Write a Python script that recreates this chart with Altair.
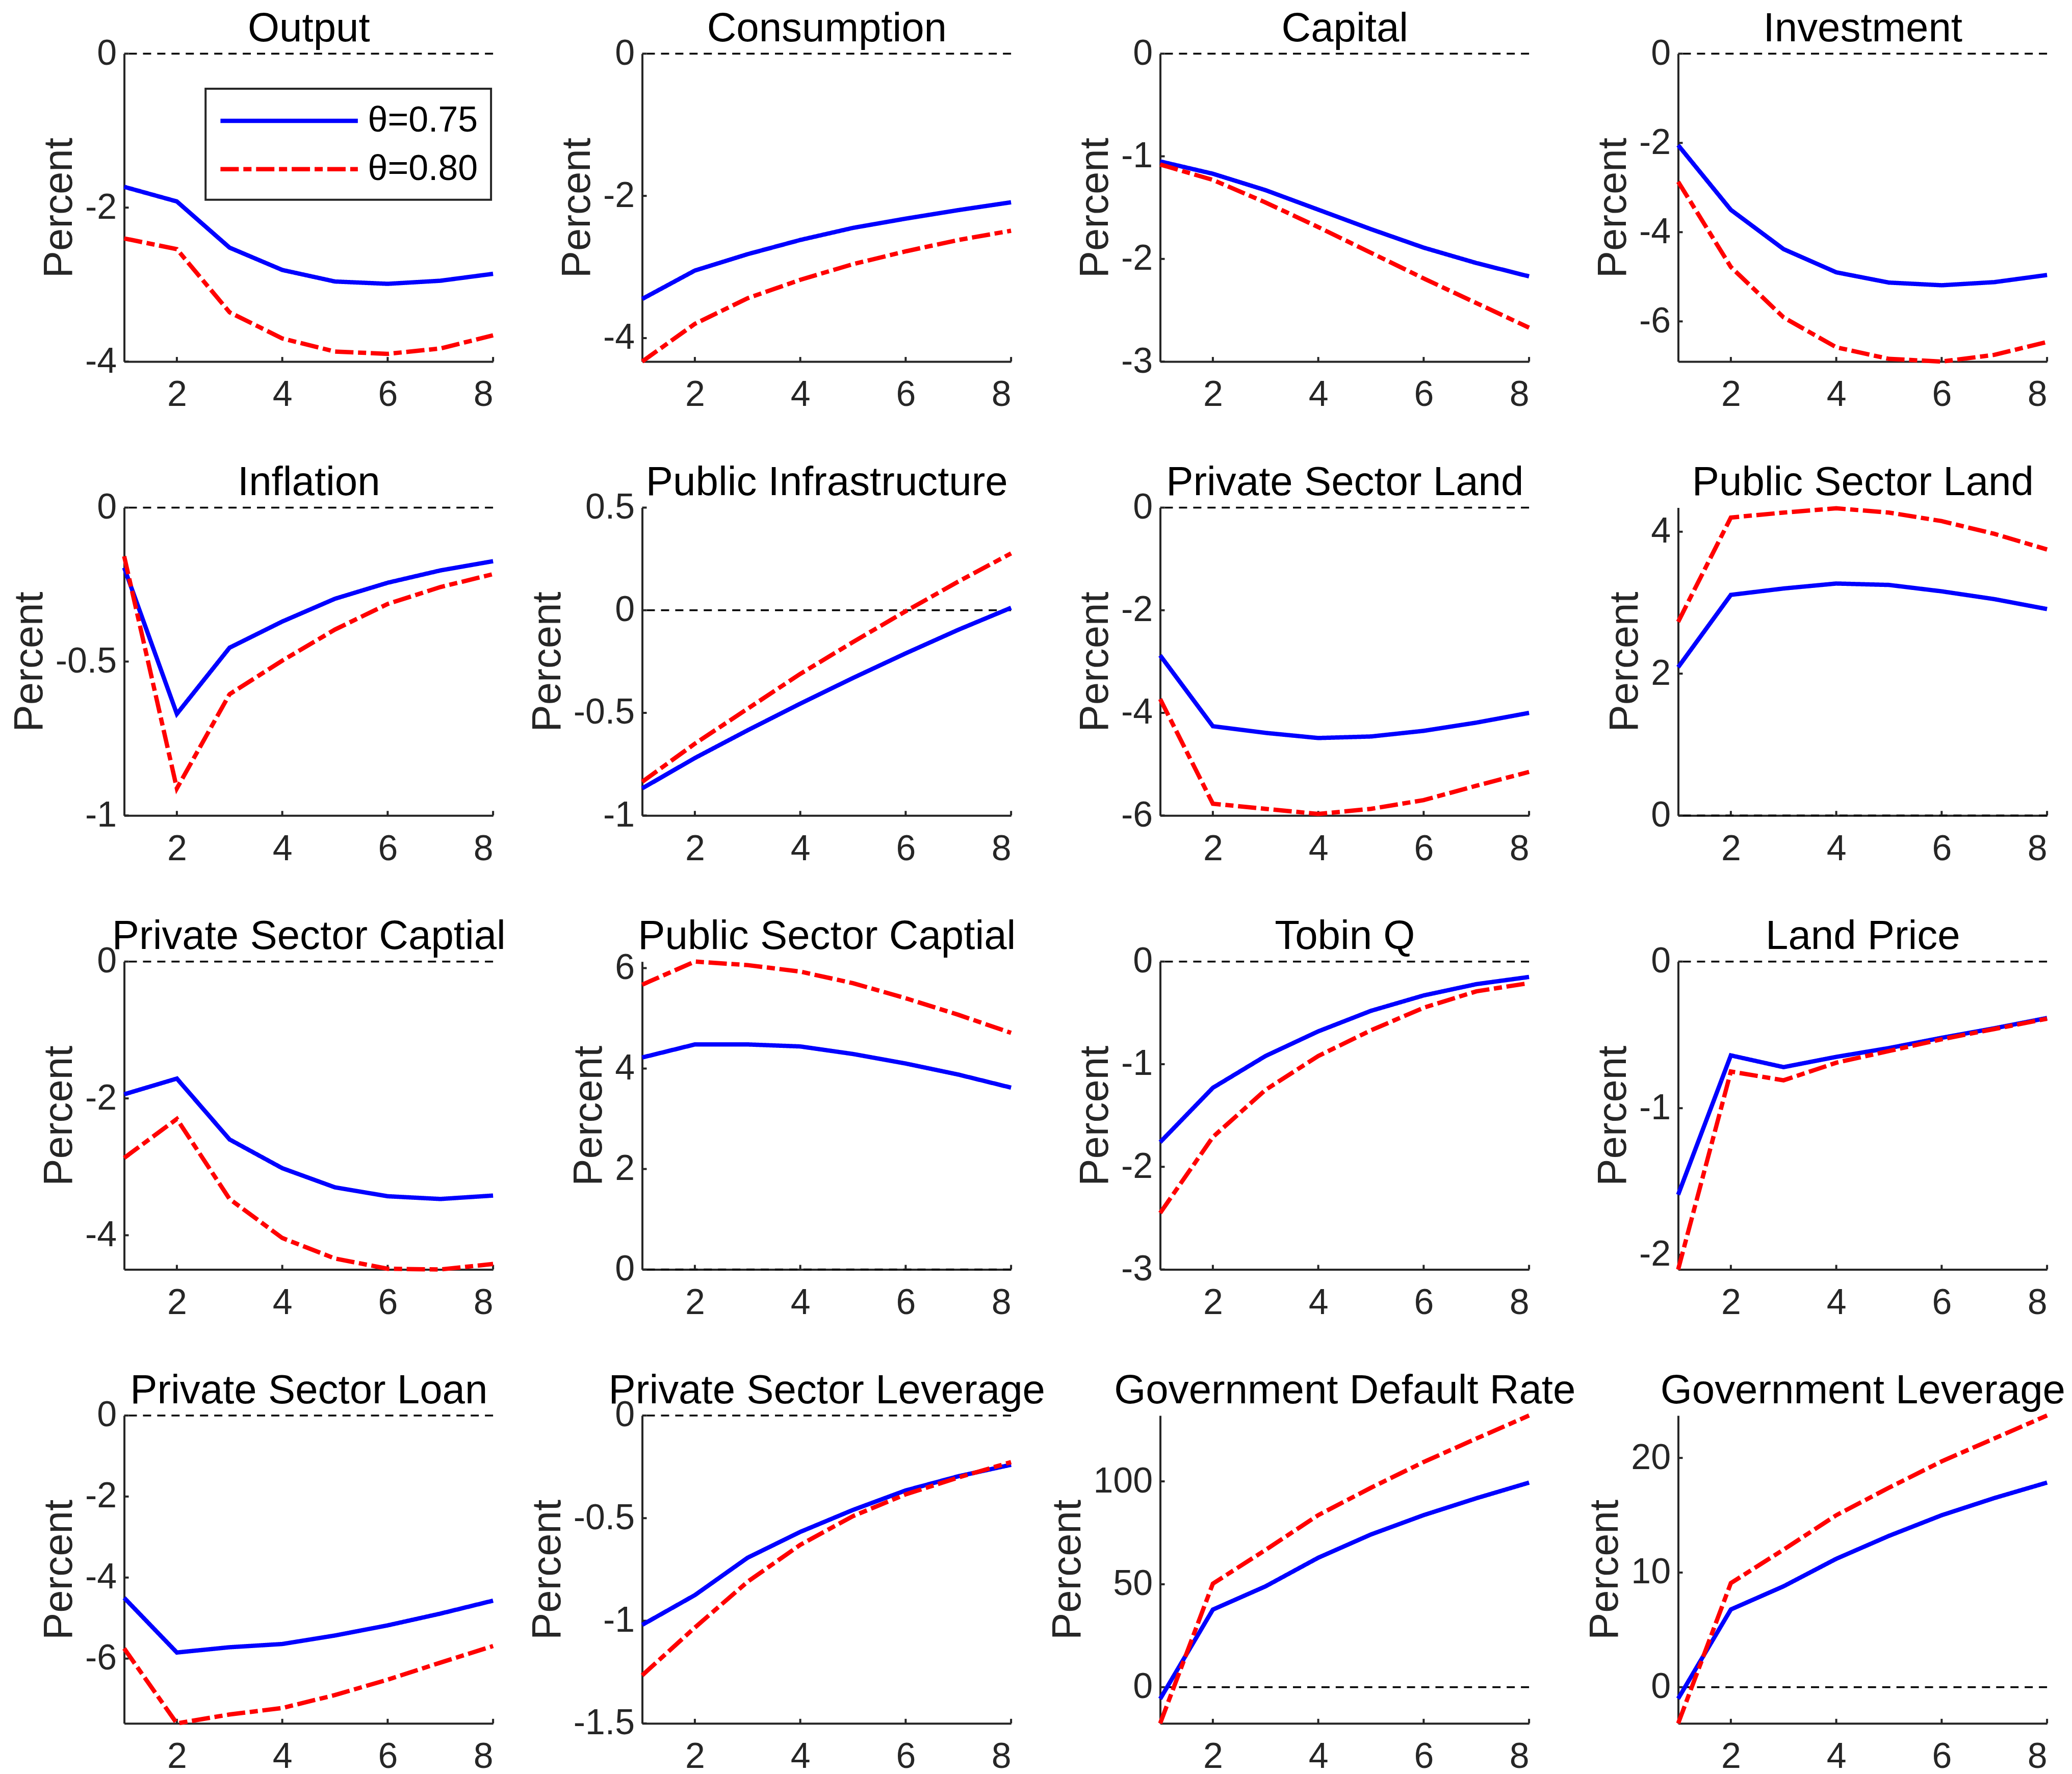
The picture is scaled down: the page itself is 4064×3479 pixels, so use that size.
import altair as alt
import pandas as pd

FONT = "Liberation Sans"
W, H = 725, 605

periods = [1, 2, 3, 4, 5, 6, 7, 8]
series_names = ["θ=0.75", "θ=0.80"]
x_ticks = [2, 4, 6, 8]

titles = ["Output", "Consumption", "Capital", "Investment",
          "Inflation", "Public Infrastructure", "Private Sector Land", "Public Sector Land",
          "Private Sector Captial", "Public Sector Captial", "Tobin Q", "Land Price",
          "Private Sector Loan", "Private Sector Leverage", "Government Default Rate",
          "Government Leverage"]

theta075 = [
    [-1.73, -1.92, -2.52, -2.81, -2.96, -2.99, -2.95, -2.86],
    [-3.45, -3.05, -2.82, -2.62, -2.45, -2.32, -2.20, -2.09],
    [-1.05, -1.17, -1.33, -1.52, -1.71, -1.89, -2.04, -2.17],
    [-2.05, -3.50, -4.38, -4.90, -5.13, -5.19, -5.12, -4.96],
    [-0.195, -0.67, -0.455, -0.37, -0.296, -0.244, -0.204, -0.174],
    [-0.868, -0.72, -0.585, -0.455, -0.33, -0.21, -0.095, 0.012],
    [-2.88, -4.26, -4.39, -4.49, -4.46, -4.35, -4.19, -4.00],
    [2.09, 3.11, 3.20, 3.27, 3.25, 3.16, 3.05, 2.91],
    [-1.94, -1.71, -2.60, -3.02, -3.30, -3.43, -3.47, -3.42],
    [4.22, 4.48, 4.48, 4.44, 4.29, 4.10, 3.88, 3.62],
    [-1.76, -1.23, -0.92, -0.68, -0.48, -0.33, -0.22, -0.15],
    [-1.59, -0.64, -0.72, -0.65, -0.59, -0.52, -0.455, -0.385],
    [-4.50, -5.85, -5.72, -5.64, -5.43, -5.18, -4.89, -4.57],
    [-1.02, -0.875, -0.693, -0.567, -0.46, -0.365, -0.296, -0.24],
    [-5.7, 37.7, 49.0, 62.9, 74.2, 83.6, 91.8, 99.4],
    [-1.0, 6.78, 8.8, 11.2, 13.2, 15.0, 16.5, 17.85],
]

theta080 = [
    [-2.40, -2.54, -3.36, -3.70, -3.87, -3.90, -3.83, -3.66],
    [-4.33, -3.80, -3.44, -3.18, -2.96, -2.78, -2.62, -2.49],
    [-1.08, -1.23, -1.45, -1.69, -1.94, -2.19, -2.43, -2.67],
    [-2.87, -4.78, -5.91, -6.58, -6.84, -6.90, -6.75, -6.46],
    [-0.158, -0.912, -0.606, -0.497, -0.396, -0.313, -0.258, -0.216],
    [-0.836, -0.65, -0.48, -0.31, -0.155, -0.005, 0.14, 0.277],
    [-3.73, -5.77, -5.87, -5.97, -5.87, -5.70, -5.42, -5.15],
    [2.73, 4.20, 4.27, 4.33, 4.27, 4.15, 3.97, 3.75],
    [-2.87, -2.30, -3.47, -4.04, -4.34, -4.49, -4.50, -4.42],
    [5.67, 6.13, 6.06, 5.93, 5.70, 5.40, 5.07, 4.71],
    [-2.45, -1.71, -1.25, -0.92, -0.67, -0.45, -0.29, -0.21],
    [-2.10, -0.75, -0.81, -0.69, -0.61, -0.53, -0.46, -0.39],
    [-5.75, -7.60, -7.38, -7.22, -6.90, -6.52, -6.10, -5.69],
    [-1.266, -1.033, -0.81, -0.63, -0.49, -0.384, -0.302, -0.227],
    [-17.6, 50.3, 66.7, 83.6, 96.9, 109.4, 120.8, 132.0],
    [-3.16, 9.08, 12.0, 15.0, 17.4, 19.7, 21.7, 23.7],
]

y_domains = [
    [-4, 0], [-4.33, 0], [-3, 0], [-6.9, 0],
    [-1, 0], [-1, 0.5], [-6, 0], [0, 4.34],
    [-4.5, 0], [0, 6.13], [-3, 0], [-2.1, 0],
    [-7.6, 0], [-1.5, 0], [-17.6, 132], [-3.16, 23.7],
]

y_ticks = [
    [-4, -2, 0], [-4, -2, 0], [-3, -2, -1, 0], [-6, -4, -2, 0],
    [-1, -0.5, 0], [-1, -0.5, 0, 0.5], [-6, -4, -2, 0], [0, 2, 4],
    [-4, -2, 0], [0, 2, 4, 6], [-3, -2, -1, 0], [-2, -1, 0],
    [-6, -4, -2, 0], [-1.5, -1, -0.5, 0], [0, 50, 100], [0, 10, 20],
]

AXIS_COLOR = "#262626"


def panel(i):
    df = pd.DataFrame({
        "period": periods * 2,
        "value": theta075[i] + theta080[i],
        "series": [series_names[0]] * 8 + [series_names[1]] * 8,
    })
    yscale = alt.Scale(domain=y_domains[i], nice=False, zero=False)
    xscale = alt.Scale(domain=[1, 8], nice=False, zero=False)
    if i == 0:
        legend = alt.Legend(
            title=None, orient="none", legendX=160, legendY=69,
            symbolType="M-1,0H7", symbolSize=4556, symbolStrokeWidth=8.5,
            labelFontSize=70, labelFont=FONT, labelColor="black", labelLimit=600,
            labelOffset=218, padding=25, rowPadding=22,
            strokeColor=AXIS_COLOR, fillColor="white",
        )
    else:
        legend = None
    xaxis = alt.Axis(values=x_ticks, title=None, labelExpr="'' + datum.value")
    yaxis = alt.Axis(values=y_ticks[i], title="Percent", labelExpr="'' + datum.value")
    title_axis = alt.Axis(
        orient="top", title=titles[i], labels=False, ticks=False, domain=False,
        titleFontSize=80, titleFont=FONT, titleFontWeight="normal", titleColor="black",
        titlePadding=8, titleBaseline="bottom",
    )

    lines = alt.Chart(df).mark_line(strokeWidth=8.5).encode(
        x=alt.X("period:Q", scale=xscale, axis=xaxis),
        y=alt.Y("value:Q", scale=yscale, axis=yaxis),
        color=alt.Color("series:N",
                        scale=alt.Scale(domain=series_names, range=["#0000FF", "#FF0000"]),
                        legend=legend),
        strokeDash=alt.StrokeDash("series:N",
                                  scale=alt.Scale(domain=series_names,
                                                  range=[[1, 0], [36, 9, 16, 9]]),
                                  legend=legend),
    )
    zero = alt.Chart(pd.DataFrame({"value": [0]})).mark_rule(
        color="black", strokeWidth=3.5, strokeDash=[16, 12]
    ).encode(y=alt.Y("value:Q", scale=yscale, axis=yaxis))
    xt = alt.Chart(pd.DataFrame({"period": x_ticks})).mark_rule(
        color=AXIS_COLOR, strokeWidth=4
    ).encode(x=alt.X("period:Q", scale=xscale, axis=title_axis),
             y=alt.value(H), y2=alt.value(H - 9))
    yt = alt.Chart(pd.DataFrame({"value": y_ticks[i]})).mark_rule(
        color=AXIS_COLOR, strokeWidth=4
    ).encode(y=alt.Y("value:Q", scale=yscale, axis=yaxis),
             x=alt.value(0), x2=alt.value(9))
    return alt.layer(zero, xt, yt, lines).resolve_axis(x="independent").properties(
        width=W, height=H
    )


panels = [panel(i) for i in range(16)]

chart = alt.concat(
    *panels, columns=4, spacing={"row": 287, "column": 293}, bounds="flush"
).resolve_scale(
    x="independent", y="independent", color="independent", strokeDash="independent"
).resolve_legend(
    color="independent", strokeDash="independent"
).properties(
    padding={"top": 5, "left": 10, "right": 5, "bottom": 5}
).configure_view(stroke=None).configure_axis(
    grid=False, ticks=False, domainColor=AXIS_COLOR, domainWidth=4,
    labelFont=FONT, labelFontSize=70, labelColor=AXIS_COLOR,
    titleFont=FONT, titleFontSize=80, titleFontWeight="normal", titleColor=AXIS_COLOR,
).configure_axisBottom(labelPadding=32).configure_axisY(
    labelPadding=15, titlePadding=9
).configure_legend(strokeWidth=4)

chart.save("out.html", embed_options={"renderer": "svg", "actions": False})
